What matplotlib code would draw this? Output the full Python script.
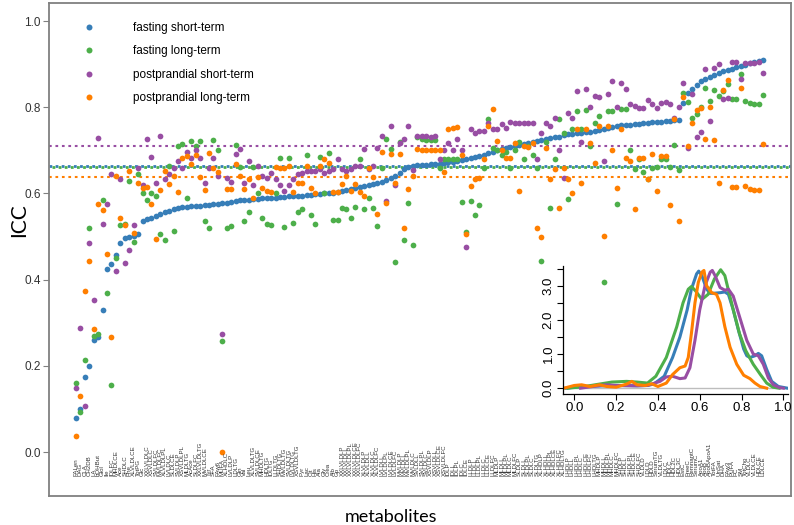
import numpy as np
import matplotlib
matplotlib.use('Agg')
import matplotlib.pyplot as plt
from matplotlib.lines import Line2D

series_names = ['fasting short-term', 'fasting long-term',
                'postprandial short-term', 'postprandial long-term']
colors = ['#377EB8', '#4DAF4A', '#984EA3', '#FF7F00']

# ICC per metabolite, metabolites sorted by fasting short-term ICC
fs = [.08, .10, .174, .20, .26, .266, .33, .424, .437, .458, .486, .497, .50, .502, .505, .537,
      .54, .543, .548, .552, .557, .56, .564, .567, .568, .569, .57, .571, .572, .573, .574, .575,
      .576, .577, .579, .58, .582, .584, .585, .586, .587,
      .588, .589, .589, .59, .59, .591, .592, .593, .594, .595, .595, .596, .597, .598, .599, .60,
      .60, .601, .603, .605, .607, .61, .612, .614, .617, .62, .622, .624, .627, .632, .637, .641,
      .648, .657, .661, .664, .665, .666, .667, .668, .669, .669,
      .67, .672, .674, .676, .678, .68, .682, .684, .687, .69, .693, .696, .70, .703, .706, .708,
      .71, .713, .715, .717, .719, .721, .723, .726, .728, .73, .732, .735, .737, .739, .74, .741,
      .742, .743, .745, .747, .749, .751, .754, .756, .758, .759, .76, .761, .762, .763, .764, .765,
      .766, .767, .768, .769, .77, .771,
      .81, .832, .842, .852, .86, .866, .871, .876, .88, .884, .887, .89, .893, .896, .899, .902,
      .905, .907, .91]
fl = [.16, .093, .213, .519, .27, .273, .586, .368, .155, .451, .528, .53, .63, .488, .646, .60,
      .586, .60, .595, .507, .493, .664, .512, .711, .715, .59, .722, .711, .722, .537, .521, .724,
      .70, .257, .521, .525, .713, .662, .535, .556, .662,
      .60, .542, .53, .528, .60, .683, .523, .683, .532, .556, .565, .69, .549, .53, .685, .602,
      .694, .539, .539, .567, .565, .544, .569, .68, .565, .59, .567, .525, .66, .727, .704, .44,
      .72, .491, .579, .481, .73, .727, .725, .725,
      .725, .66, .68, .68, .68, .68, .58, .51, .583, .549, .574, .66, .773, .706, .70, .69, .697,
      .66, .70, .72, .68, .71, .69,
      .66, .444, .72, .567, .68, .773, .74, .588, .75, .792, .75, .794, .711, .764, .78, .394,
      .792, .792, .576, .796, .796, .70, .657, .68, .65, .634, .66, .662, .68, .68, .662, .713,
      .655, .833, .812, .775, .785, .80, .845, .815, .84, .826, .838, .854, .82, .82, .877, .815,
      .81, .808, .808, .829]
ps = [.148, .289, .106, .486, .352, .729, .53, .576, .646, .421, .634, .438, .47, .528, .66, .62,
      .727, .685, .625, .734, .634, .646, .66, .676, .66, .697, .683, .70, .683, .625, .66, .683,
      .64, .275, .637, .627, .692, .704, .625, .676, .62,
      .664, .641, .637, .648, .634, .62, .606, .62, .634, .646, .648, .653, .653, .653, .657, .648,
      .653, .657, .68, .657, .653, .657, .664, .664, .704, .657, .664, .706, .734, .583, .757, .62,
      .718, .727, .757, .655, .734, .734, .734, .73,
      .734, .68, .70, .718, .70, .727, .70, .475, .75, .74, .745, .745, .764, .75, .75, .762, .753,
      .766, .764, .764, .764, .764, .764,
      .68, .741, .764, .757, .775, .70, .637, .787, .775, .838, .72, .843, .80, .826, .824, .676,
      .831, .861, .801, .856, .843, .808, .803, .799, .799, .817, .808, .799, .81, .812, .808, .775,
      .80, .856, .706, .83, .731, .743, .889, .769, .891, .90, .82, .822, .905, .905, .866, .903,
      .903, .903, .905, .88]
pl = [.038, .13, .373, .444, .285, .576, .562, .46, .268, .641, .544, .528, .653, .509, .625, .613,
      .616, .576, .495, .609, .653, .623, .64, .604, .683, .687, .669, .69, .639, .607, .694, .66,
      .65, .0, .611, .611, .669, .64, .611, .634, .59,
      .639, .613, .606, .604, .662, .66, .66, .664, .604, .625, .625, .664, .613, .602, .664, .68,
      .671, .604, .604, .623, .641, .606, .623, .604, .595, .66, .639, .553, .697, .579, .692, .625,
      .692, .521, .611, .64, .704, .70, .70, .70,
      .70, .70, .65, .75, .752, .755, .69, .507, .618, .634, .637, .68, .757, .796, .722, .70, .683,
      .683, .718, .606, .711, .708, .718,
      .521, .498, .706, .634, .657, .567, .66, .634, .60, .75, .625, .75, .718, .671, .757, .502,
      .757, .70, .613, .75, .683, .676, .565, .683, .683, .634, .692, .606, .687, .687, .574, .773,
      .535, .824, .711, .764, .794, .799, .727, .801, .725, .625, .84, .863, .616, .616, .845, .618,
      .611, .609, .609, .715]
mean_lines = [0.663, 0.661, 0.710, 0.639]

# density curves shown in the inset
dens_fs_x = [-0.04, 0.0, 0.1, 0.2, 0.3, 0.35, 0.38, 0.43, 0.47, 0.505, 0.54, 0.56, 0.585, 0.595,
             0.61, 0.633, 0.65, 0.665, 0.70, 0.72, 0.737, 0.76, 0.785, 0.81, 0.825, 0.84, 0.864,
             0.88, 0.896, 0.92, 0.944, 0.976, 1.02]
dens_fs_y = [0.0, 0.03, 0.06, 0.08, 0.07, 0.08, 0.12, 0.35, 0.9, 1.5, 2.3, 2.9, 3.35, 3.43,
             3.3, 2.9, 2.78, 2.78, 2.8, 2.82, 2.75, 2.3, 1.7, 1.15, 0.95, 0.9, 0.95,
             1.02, 0.95, 0.55, 0.2, 0.05, 0.0]
dens_fl_x = [-0.03, 0.05, 0.12, 0.18, 0.25, 0.3, 0.35, 0.39, 0.44, 0.49, 0.52, 0.545, 0.56, 0.58,
             0.61, 0.64, 0.67, 0.70, 0.72, 0.76, 0.79, 0.82, 0.856, 0.89, 0.92, 0.95, 0.98]
dens_fl_y = [0.0, 0.05, 0.12, 0.18, 0.2, 0.18, 0.15, 0.35, 0.9, 1.8, 2.5, 2.9, 2.98, 2.85,
             2.6, 2.75, 3.2, 3.47, 3.3, 2.3, 1.6, 1.1, 0.7, 0.4, 0.15, 0.03, 0.0]
dens_ps_x = [0.03, 0.1, 0.15, 0.2, 0.3, 0.35, 0.41, 0.44, 0.47, 0.505, 0.53, 0.553, 0.577, 0.60,
             0.625, 0.65, 0.66, 0.673, 0.697, 0.72, 0.737, 0.76, 0.79, 0.825, 0.856, 0.88, 0.904,
             0.928, 0.952, 0.98, 1.0]
dens_ps_y = [0.0, 0.06, 0.1, 0.08, 0.07, 0.08, 0.2, 0.33, 0.35, 0.28, 0.3, 0.6, 1.4, 2.3,
             3.0, 3.4, 3.45, 3.3, 2.95, 2.87, 2.9, 2.7, 2.1, 1.4, 1.0, 0.95, 0.7,
             0.3, 0.1, 0.02, 0.0]
dens_pl_x = [-0.05, 0.0, 0.035, 0.075, 0.12, 0.155, 0.2, 0.25, 0.275, 0.3, 0.34, 0.37, 0.4, 0.44,
             0.47, 0.505, 0.53, 0.545, 0.56, 0.577, 0.593, 0.61, 0.62, 0.633, 0.657, 0.68, 0.697,
             0.72, 0.745, 0.777, 0.81, 0.84, 0.864, 0.888, 0.92]
dens_pl_y = [0.0, 0.08, 0.1, 0.05, 0.1, 0.05, 0.03, 0.12, 0.2, 0.1, 0.08, 0.13, 0.05, 0.15,
             0.4, 0.6, 0.65, 0.9, 1.6, 2.5, 3.1, 3.4, 3.45, 3.0, 2.8, 2.75, 2.5,
             1.8, 1.2, 0.7, 0.38, 0.28, 0.15, 0.05, 0.0]

metabolites = [
    "FALen", "DAG", "CLA", "CH2DB", "LA", "bOHBut", "Glol", "Ile", "IDLFC", "MHDLCE",
    "Ace", "SHDLC", "Phe", "XLVLDLCE", "TotPG", "Glc", "XXLVLDLC", "XSVLDLC", "SVLDLFC", "MVLDLFC",
    "XLVLDLPL", "LVLDLC", "SLDLCE", "SVLDLP", "XSVLDLPL", "MLDLTG", "AcAce", "SLDLFC", "XXLVLDLTG", "MVLDLCE",
    "Tyr", "SFA", "FAw6", "MUFA", "XLHDLC", "LVLDLP", "LDLTG", "Gln", "Val", "Leu",
    "XLVLDLTG", "SVLDLCE", "MHDLTG", "HDLTG", "IDLTG", "LLDLTG", "SHDLTG", "MVLDLTG", "SVLDLTG", "LVLDLTG",
    "XSVLDLTG", "Pyr", "Lac", "Cit", "His", "Ala", "Gly", "Crea", "Alb", "Gp",
    "XXLVLDLP", "XXLVLDLL", "XXLVLDLPL", "XXLVLDLCE", "XXLVLDLFC", "XLVLDLP", "XLVLDLL", "XLVLDLC", "XLVLDLFC", "LVLDLL",
    "LVLDLPL", "LVLDLCE", "LVLDLFC", "MVLDLP", "MVLDLL", "MVLDLPL", "MVLDLC", "SVLDLL", "SVLDLPL", "SVLDLC",
    "XSVLDLP", "XSVLDLL", "XSVLDLCE", "XSVLDLFC", "IDLP", "IDLL", "IDLPL", "IDLC", "IDLCE", "LLDLP",
    "LLDLL", "LLDLPL", "LLDLC", "LLDLCE", "LLDLFC", "MLDLP", "MLDLL", "MLDLPL", "MLDLC", "MLDLFC",
    "SLDLP", "SLDLL", "SLDLPL", "SLDLC", "SLDLTG", "XLHDLP", "XLHDLL", "XLHDLPL", "XLHDLCE", "XLHDLFC",
    "XLHDLTG", "LHDLP", "LHDLL", "LHDLPL", "LHDLC", "LHDLCE", "LHDLFC", "LHDLTG", "MHDLP", "MHDLL",
    "MHDLPL", "MHDLC", "MHDLFC", "SHDLP", "SHDLL", "SHDLPL", "SHDLCE", "SHDLFC", "VLDLD", "LDLD",
    "HDLD", "SerumTG", "VLDLTG", "LDLC", "HDLC", "HDL2C", "HDL3C", "EstC", "FreeC", "RemnantC",
    "SerumC", "ApoA1", "ApoB", "ApoBApoA1", "TotFA", "UnSat", "DHA", "FAw3", "PUFA", "PC",
    "SM", "TotCho", "VLDLC", "VLDLCE", "HDLCE", "LDLCE"]

series = [fs, fl, ps, pl]
densities = [(dens_fs_x, dens_fs_y), (dens_fl_x, dens_fl_y),
             (dens_ps_x, dens_ps_y), (dens_pl_x, dens_pl_y)]

W, H = 794, 525
fig = plt.figure(figsize=(W / 100, H / 100), dpi=100)
ax = fig.add_axes([49 / W, 29 / H, 742 / W, 493 / H])

x = np.arange(len(metabolites))
for s, c, name in zip(series, colors, series_names):
    ax.scatter(x, s, s=17, color=c, linewidths=0, zorder=3, label=name)

# mean ICC lines
ax.axhline(mean_lines[0], color=colors[0], lw=2.0, ls=(0, (1, 1.2)), zorder=2)
ax.axhline(mean_lines[1], color=colors[1], lw=2.0, ls=(1.1, (1, 1.2)), zorder=2)
ax.axhline(mean_lines[2], color=colors[2], lw=1.5, ls=(0, (1.3, 1.8)), zorder=2)
ax.axhline(mean_lines[3], color=colors[3], lw=1.5, ls=(0, (1.3, 1.8)), zorder=2)

for i, name in enumerate(metabolites):
    ax.text(i, -0.056, name, rotation=90, ha='center', va='bottom', fontsize=4.4,
            color='#333333', family='Liberation Sans')

ax.set_xlim(-6.1, 161.3)
ax.set_ylim(-0.102, 1.042)
ax.set_xticks([])
ax.set_yticks([0, 0.2, 0.4, 0.6, 0.8, 1.0])
ax.set_yticklabels(['0.0', '0.2', '0.4', '0.6', '0.8', '1.0'], family='Liberation Sans',
                   fontsize=8.5, color='#333333')
ax.tick_params(axis='y', length=4, width=0.8, color='#808080', pad=2)
for sp in ax.spines.values():
    sp.set_color('#808080')
    sp.set_linewidth(1.3)

ax.set_ylabel('ICC', family='Lato', fontsize=15)
ax.yaxis.set_label_coords(-0.027, 0.56)
ax.set_xlabel('metabolites', family='Lato', fontsize=13)
ax.xaxis.set_label_coords(0.461, -0.026)

handles = [Line2D([], [], ls='none', marker='o', ms=4.3, color=c, markeredgewidth=0)
           for c in colors]
ax.legend(handles, series_names, loc='upper left', bbox_to_anchor=(0.040, 0.971),
          frameon=False, borderaxespad=0, handlelength=1.0, handletextpad=3.2,
          labelspacing=0.97, prop={'family': 'Liberation Sans', 'size': 8.5})

# inset: density of ICC per condition
ins = fig.add_axes([563 / W, (H - 394) / H, 225 / W, 128 / H])
ins.set_facecolor('none')
ins.axhline(0, color='#bdbdbd', lw=1.0, zorder=1)
for (dx, dy), c in zip(densities, colors):
    ins.plot(dx, dy, color=c, lw=2.2, zorder=2, solid_joinstyle='round')
ins.set_xlim(-0.054, 1.022)
ins.set_ylim(-0.17, 3.58)
ins.set_xticks([0, 0.2, 0.4, 0.6, 0.8, 1.0])
ins.set_xticklabels(['0.0', '0.2', '0.4', '0.6', '0.8', '1.0'])
yt = np.arange(0, 3.6, 0.5)
ins.set_yticks(yt)
ins.set_yticklabels(['%.1f' % t if t == int(t) else '' for t in yt], rotation=90, va='center')
ins.tick_params(labelsize=9.5, length=4, width=0.8, pad=2)
for lab in ins.get_xticklabels() + ins.get_yticklabels():
    lab.set_family('Liberation Sans')
ins.spines['top'].set_visible(False)
ins.spines['right'].set_visible(False)
ins.spines['left'].set_linewidth(0.9)
ins.spines['bottom'].set_linewidth(0.9)

fig.savefig('out.png', dpi=100)
